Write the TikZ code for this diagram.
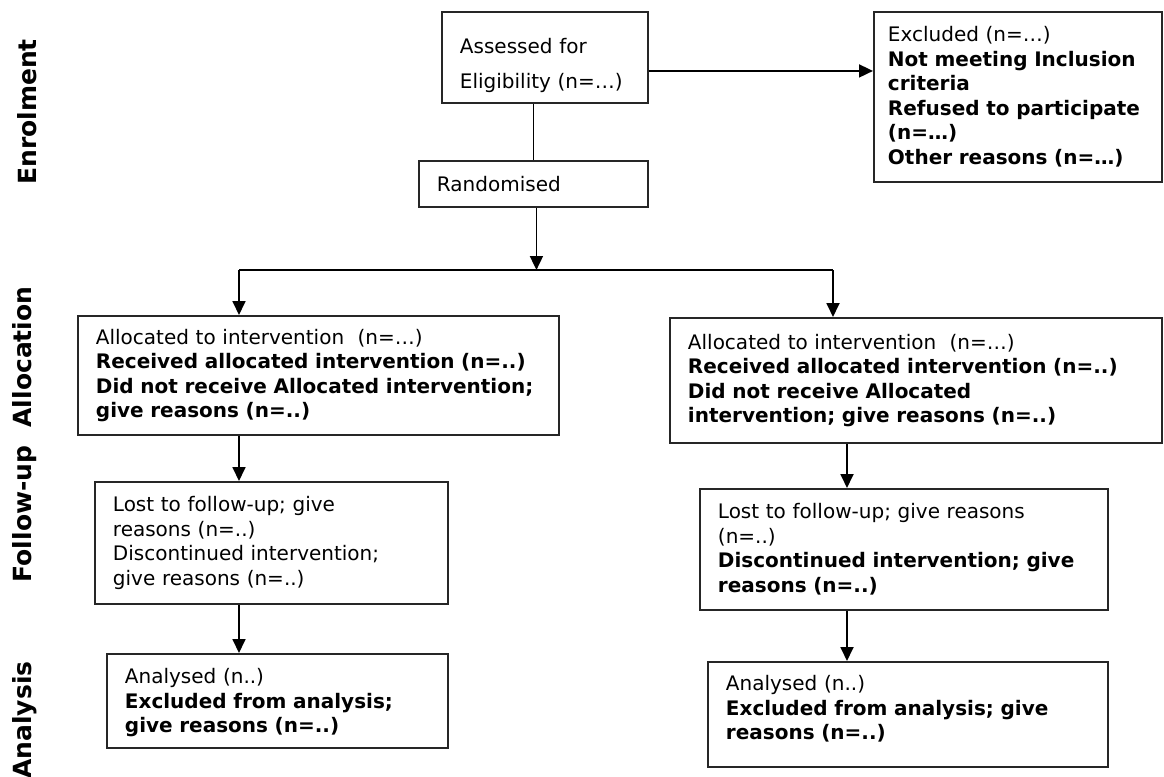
\documentclass[tikz,border=0pt]{standalone}
\usepackage{fontspec}
\setmainfont{DejaVu Sans}
\usepackage{tikz}
\usetikzlibrary{arrows.meta,positioning,calc}
\hyphenpenalty=10000
\exhyphenpenalty=10000

\begin{document}
\begin{tikzpicture}[x=0.5pt,y=-0.5pt,
  bx/.style={draw,line width=0.95pt,draw=black!85,anchor=north west,align=left,inner xsep=9pt,inner ysep=0pt,font=\fontsize{10}{12.25}\selectfont},
  side/.style={rotate=90,anchor=base,font=\fontsize{12.5}{15}\selectfont\bfseries},
  ln/.style={line width=0.9pt},
  arr/.style={ln,-{Triangle[length=7pt,width=6.5pt]}}]
\useasboundingbox (0,0) rectangle (1164,777);
\node[side] (enrol) at (37,112) {Enrolment};
\node[side] (alloc) at (32,357) {Allocation};
\node[side] (follow) at (32,514) {Follow-up};
\node[side] (analys) at (32,720) {Analysis};
\node[bx,text width=85pt,minimum height=45.5pt,font=\fontsize{10}{17.5}\selectfont] (assess) at (441,11) {\rule{0pt}{15.5pt}Assessed for\\Eligibility (n=…)};
\node[bx,text width=96.5pt,minimum height=23pt] (random) at (418,160) {Randomised};
\node[bx,text width=130pt,inner xsep=7pt,minimum height=85pt] (excl) at (873,11) {Excluded (n=…)\\{\bfseries Not meeting Inclusion\\criteria\\Refused to participate\\(n=…)\\Other reasons (n=…)}};
\node[bx,text width=222.5pt,minimum height=59.5pt] (allocL) at (77,315) {Allocated to intervention\ \ (n=…)\\{\bfseries Received allocated intervention (n=..)\\Did not receive Allocated intervention;\\give reasons (n=..)}};
\node[bx,text width=228pt,minimum height=62.5pt] (allocR) at (669,317) {Allocated to intervention\ \ (n=…)\\{\bfseries Received allocated intervention (n=..)\\Did not receive Allocated\\intervention; give reasons (n=..)}};
\node[bx,text width=158.5pt,minimum height=61pt] (followL) at (94,481) {Lost to follow-up; give\\reasons (n=..)\\Discontinued intervention;\\give reasons (n=..)};
\node[bx,text width=186pt,minimum height=60.5pt] (followR) at (699,488) {Lost to follow-up; give reasons\\(n=..)\\{\bfseries Discontinued intervention; give\\reasons (n=..)}};
\node[bx,text width=152.5pt,minimum height=47pt] (analL) at (106,653) {\rule{0pt}{9.5pt}Analysed (n..)\\{\bfseries Excluded from analysis;\\give reasons (n=..)}};
\node[bx,text width=182pt,minimum height=52.5pt] (analR) at (707,661) {Analysed (n..)\\{\bfseries Excluded from analysis; give\\reasons (n=..)}\rule[-7pt]{0pt}{0pt}};
\coordinate (bl) at (239,270);
\coordinate (br) at (833,270);
\coordinate (cr) at (847,610);
\draw[ln] (random.north) -- (random.north |- assess.south);
\draw[arr] ([yshift=-6.75pt]assess.east) -- ([yshift=-6.75pt]assess.east -| excl.west);
\draw[arr] ([xshift=1.5pt]random.south) -- ([xshift=1.5pt]random.south |- bl);
\draw[ln] (bl) -- (br);
\draw[arr] (bl) -- (bl |- allocL.north);
\draw[arr] (br) -- (br |- allocR.north);
\draw[arr] (bl |- allocL.south) -- (bl |- followL.north);
\draw[arr] (bl |- followL.south) -- (bl |- analL.north);
\draw[arr] (cr |- allocR.south) -- (cr |- followR.north);
\draw[arr] (cr |- followR.south) -- (cr |- analR.north);
\end{tikzpicture}
\end{document}
